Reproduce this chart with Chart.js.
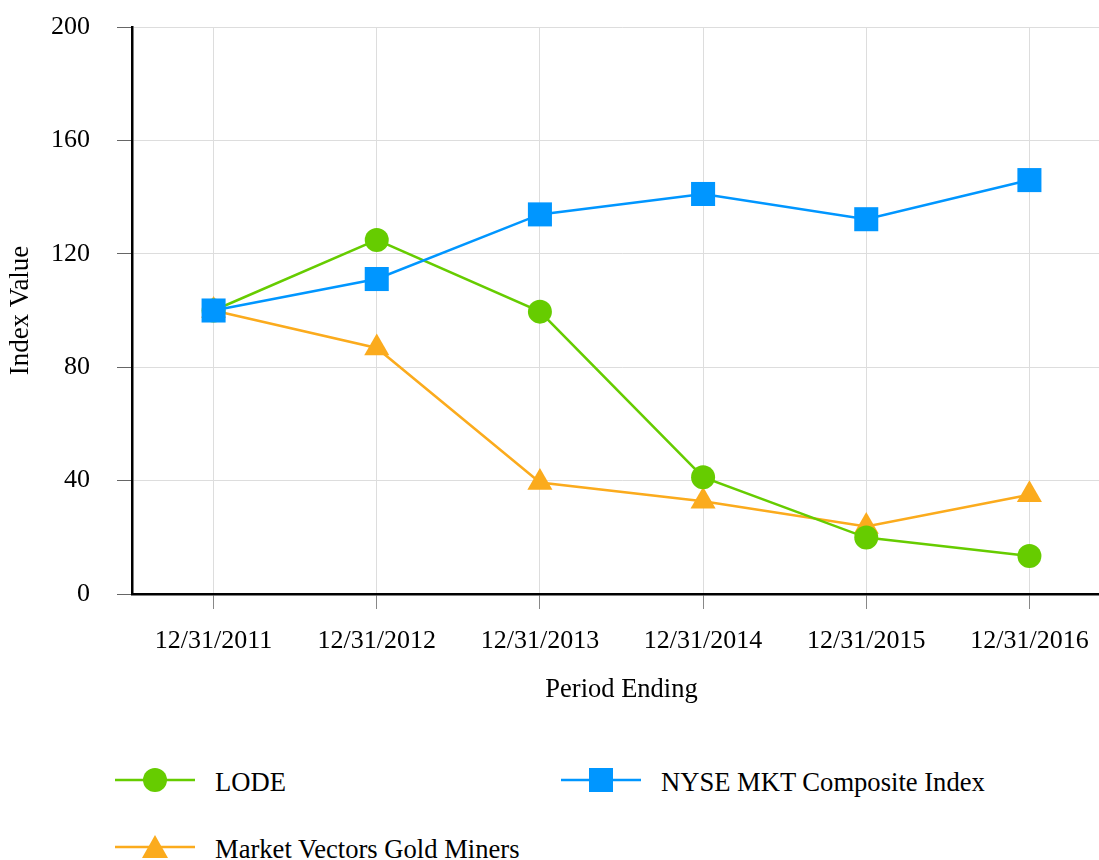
<!DOCTYPE html>
<html>
<head>
<meta charset="utf-8">
<script src="https://cdn.jsdelivr.net/npm/chart.js@4.4.0/dist/chart.umd.min.js"></script>
<style>
  html, body { margin: 0; padding: 0; background: #fff; overflow: hidden; }
  #wrap { position: relative; width: 1099px; height: 860px; overflow: hidden; }
  #chart { position: absolute; left: 0; top: 0; }
  .leg { position: absolute; display: flex; align-items: center; height: 30px;
         font-family: "Liberation Serif", "Times New Roman", serif; font-size: 26.6px; color: #000; }
  .leg svg { display: block; }
  .leg span { margin-left: 20px; line-height: 30px; position: relative; top: 2px; white-space: nowrap; }
</style>
</head>
<body>
<div id="wrap">
  <canvas id="chart" width="1128" height="720"></canvas>
  <div class="leg" style="left:115px; top:765px;">
    <svg width="80" height="30"><line x1="0" y1="15" x2="80" y2="15" stroke="#66cc00" stroke-width="2.5"/><circle cx="40" cy="15" r="12" fill="#66cc00"/></svg>
    <span>LODE</span>
  </div>
  <div class="leg" style="left:561px; top:765px;">
    <svg width="80" height="30"><line x1="0" y1="15" x2="80" y2="15" stroke="#0096ff" stroke-width="2.5"/><rect x="28" y="3" width="24" height="24" fill="#0096ff"/></svg>
    <span>NYSE MKT Composite Index</span>
  </div>
  <div class="leg" style="left:115px; top:832px;">
    <svg width="80" height="30"><line x1="0" y1="15" x2="80" y2="15" stroke="#fbab1d" stroke-width="2.5"/><polygon points="40,3 53,26 27,26" fill="#fbab1d"/></svg>
    <span>Market Vectors Gold Miners</span>
  </div>
</div>
<script>
"use strict";
var periods = ["12/31/2011", "12/31/2012", "12/31/2013", "12/31/2014", "12/31/2015", "12/31/2016"];
var lodeValues = [100, 124.9, 99.6, 41.2, 19.9, 13.4];
var nyseValues = [100, 111.1, 133.9, 141.1, 132.2, 146.0];
var goldValues = [100, 86.8, 39.3, 32.7, 23.8, 35.0];
var yMin = 0;
var yMax = 200;
var yStep = 40;

var serif = "'Liberation Serif', 'Times New Roman', serif";

var ctx = document.getElementById("chart").getContext("2d");
var myChart = new Chart(ctx, {
    type: "line",
    data: {
        labels: periods,
        datasets: [
            {
                label: "LODE",
                data: lodeValues,
                borderColor: "#66cc00",
                backgroundColor: "#66cc00",
                borderWidth: 2.5,
                pointStyle: "circle",
                pointRadius: 12,
                pointBorderWidth: 0,
                order: 1,
            },
            {
                label: "NYSE MKT Composite Index",
                data: nyseValues,
                borderColor: "#0096ff",
                backgroundColor: "#0096ff",
                borderWidth: 2.5,
                pointStyle: "rect",
                pointRadius: 17,
                pointBorderWidth: 0,
                order: 0,
            },
            {
                label: "Market Vectors Gold Miners",
                data: goldValues,
                borderColor: "#fbab1d",
                backgroundColor: "#fbab1d",
                borderWidth: 2.5,
                pointStyle: "triangle",
                pointRadius: 14.5,
                pointBorderWidth: 0,
                order: 2,
            },
        ],
    },
    options: {
        responsive: false,
        animation: false,
        layout: {
            padding: { top: 27, left: 0, right: 0, bottom: 11 },
        },
        plugins: {
            legend: { display: false },
            tooltip: { enabled: false },
        },
        scales: {
            x: {
                offset: true,
                afterFit: function (scale) {
                    scale.paddingLeft = 0;
                    scale.paddingRight = 0;
                },
                grid: { offset: false, color: "#dddddd", tickColor: "#888888", tickLength: 15 },
                border: { color: "#000000", width: 2.5 },
                ticks: { color: "#000", font: { family: serif, size: 26 }, padding: 17, maxRotation: 0 },
                title: {
                    display: true,
                    text: "Period Ending",
                    color: "#000",
                    font: { family: serif, size: 26.5 },
                    padding: { top: 0, bottom: 3 },
                },
            },
            y: {
                min: yMin,
                max: yMax,
                afterFit: function (scale) {
                    scale.width = 132;
                    scale.paddingTop = 0;
                    scale.paddingBottom = 0;
                },
                grid: { color: "#dddddd", tickColor: "#666666", tickLength: 15 },
                border: { color: "#000000", width: 2.5 },
                ticks: { stepSize: yStep, color: "#000", font: { family: serif, size: 26 }, padding: 27 },
                title: {
                    display: true,
                    text: "Index Value",
                    color: "#000",
                    font: { family: serif, size: 27 },
                    padding: { top: 5, bottom: 14 },
                },
            },
        },
    },
});
</script>
</body>
</html>
